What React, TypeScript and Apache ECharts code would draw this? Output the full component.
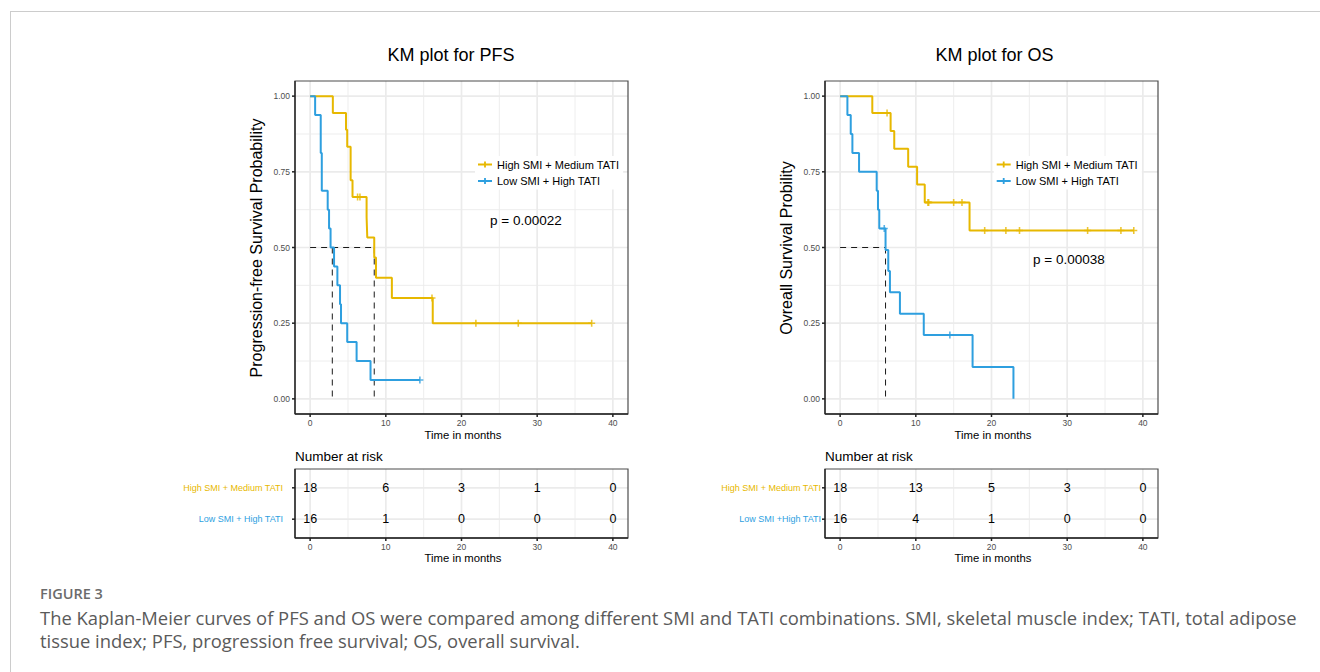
import React, { useEffect, useRef } from 'react';
import * as echarts from 'echarts';

const FONT = '"Liberation Sans", Arial, Helvetica, sans-serif';
const CAPTION_FONT = '"Open Sans", "Noto Sans", sans-serif';
const YELLOW = '#E7B800';
const BLUE = '#2E9FDF';

const groupNames = ['High SMI + Medium TATI', 'Low SMI + High TATI'];
const pfsRowLabels = ['High SMI + Medium TATI', 'Low SMI + High TATI'];
const osRowLabels = ['High SMI + Medium TATI', 'Low SMI +High TATI'];

const xMajorTicks = [0, 10, 20, 30, 40];
const xMinorTicks = [5, 15, 25, 35];
const xTickLabels = ['0', '10', '20', '30', '40'];
const yMajorTicks = [0, 0.25, 0.5, 0.75, 1];
const yMinorTicks = [0.125, 0.375, 0.625, 0.875];
const yTickLabels = ['0.00', '0.25', '0.50', '0.75', '1.00'];
const riskTimes = [0, 10, 20, 30, 40];
const riskRows = [2, 1];

// PFS, High SMI + Medium TATI: [time, survival]
const pfsHigh = [
  [0, 1], [3.0, 0.944], [4.74, 0.889], [4.9, 0.833], [5.35, 0.722], [5.6, 0.667],
  [7.46, 0.6], [7.55, 0.533], [8.47, 0.467], [8.7, 0.4], [10.8, 0.333], [16.2, 0.25], [37.2, 0.25],
];
const pfsHighCensor = [[6.27, 0.667], [6.58, 0.667], [16.1, 0.333], [21.9, 0.25], [27.5, 0.25], [37.2, 0.25]];
// PFS, Low SMI + High TATI
const pfsLow = [
  [0, 1], [0.66, 0.9375], [1.4, 0.8125], [1.54, 0.6875], [2.32, 0.625], [2.5, 0.5625], [2.7, 0.5],
  [3.16, 0.4375], [3.6, 0.375], [3.95, 0.3125], [4.08, 0.25], [4.9, 0.1875], [6.14, 0.125],
  [7.98, 0.0625], [14.5, 0.0625],
];
const pfsLowCensor = [[14.5, 0.0625]];
const pfsMedians = [2.93, 8.47];

// OS, High SMI + Medium TATI
const osHigh = [
  [0, 1], [4.25, 0.944], [6.67, 0.885], [7.15, 0.826], [8.99, 0.767], [10.17, 0.708],
  [11.18, 0.649], [17.1, 0.556], [38.8, 0.556],
];
const osHighCensor = [
  [6.2, 0.944], [11.6, 0.649], [11.7, 0.649], [15.0, 0.649], [16.1, 0.649],
  [19.1, 0.556], [21.9, 0.556], [23.7, 0.556], [32.7, 0.556], [37.1, 0.556], [38.8, 0.556],
];
// OS, Low SMI + High TATI
const osLow = [
  [0, 1], [0.96, 0.9375], [1.4, 0.875], [1.62, 0.8125], [2.5, 0.75], [4.83, 0.6875], [5.0, 0.625],
  [5.17, 0.5625], [6.0, 0.492], [6.36, 0.422], [6.58, 0.352], [7.9, 0.281], [11.05, 0.211],
  [17.5, 0.105], [22.9, 0],
];
const osLowCensor = [[5.83, 0.5625], [14.5, 0.211]];
const osMedians = [6.0];

// Number at risk
const pfsRiskHigh = [18, 6, 3, 1, 0];
const pfsRiskLow = [16, 1, 0, 0, 0];
const osRiskHigh = [18, 13, 5, 3, 0];
const osRiskLow = [16, 4, 1, 0, 0];

const X_MIN = -2, X_MAX = 42, Y_MIN = -0.05, Y_MAX = 1.05, R_MIN = 0.4, R_MAX = 2.6;

const PLUS = 'path://M-0.9,-4H0.9V-0.9H4V0.9H0.9V4H-0.9V0.9H-4V-0.9H-0.9Z';
const LEGEND_ICON = 'path://M0,2.1H14V3.9H0Z M6.1,0H7.9V6H6.1Z';

const GRID_COLOR = '#ebebeb';

function lineEl(a: number[], b: number[], stroke: string, w: number) {
  return { type: 'line', shape: { x1: a[0], y1: a[1], x2: b[0], y2: b[1] }, style: { stroke, lineWidth: w } };
}

function gridLinesSeries(gi: number, yLo: number, yHi: number, yMaj: number[], yMin: number[]) {
  return {
    type: 'custom', xAxisIndex: gi, yAxisIndex: gi, silent: true, z: 1,
    data: [[0, 0]],
    renderItem: (_p: any, api: any) => {
      const children: any[] = [];
      xMinorTicks.forEach((v) => children.push(lineEl(api.coord([v, yLo]), api.coord([v, yHi]), GRID_COLOR, 0.9)));
      yMin.forEach((v) => children.push(lineEl(api.coord([X_MIN, v]), api.coord([X_MAX, v]), GRID_COLOR, 0.9)));
      xMajorTicks.forEach((v) => children.push(lineEl(api.coord([v, yLo]), api.coord([v, yHi]), GRID_COLOR, 1.7)));
      yMaj.forEach((v) => children.push(lineEl(api.coord([X_MIN, v]), api.coord([X_MAX, v]), GRID_COLOR, 1.7)));
      return { type: 'group', children };
    },
  };
}

function frameSeries(gi: number, yLo: number, yHi: number, yTicks: number[], yLabels: string[], yColors: string[] | null, labelGap: number, labelSize: number) {
  return {
    type: 'custom', xAxisIndex: gi, yAxisIndex: gi, silent: true, z: 6,
    data: [[0, 0]],
    renderItem: (_p: any, api: any) => {
      const tl = api.coord([X_MIN, yHi]);
      const br = api.coord([X_MAX, yLo]);
      const children: any[] = [
        { type: 'rect', shape: { x: tl[0], y: tl[1], width: br[0] - tl[0], height: br[1] - tl[1] }, style: { fill: 'none', stroke: '#4d4d4d', lineWidth: 1.2 } },
        lineEl([tl[0], tl[1]], [tl[0], br[1]], '#222', 1.3),
        lineEl([tl[0], br[1]], [br[0], br[1]], '#222', 1.3),
      ];
      yTicks.forEach((v, i) => {
        const p = api.coord([X_MIN, v]);
        children.push(lineEl([p[0] - 3, p[1]], [p[0], p[1]], '#222', 1.5));
        children.push({
          type: 'text', x: p[0] - labelGap, y: p[1],
          style: { text: yLabels[i], fill: yColors ? yColors[i] : '#4d4d4d', fontSize: labelSize, fontFamily: FONT, align: 'right', verticalAlign: 'middle' },
        });
      });
      xMajorTicks.forEach((v, i) => {
        const p = api.coord([v, yLo]);
        children.push(lineEl([p[0], p[1]], [p[0], p[1] + 3], '#222', 1.5));
        children.push({
          type: 'text', x: p[0], y: p[1] + 9,
          style: { text: xTickLabels[i], fill: '#4d4d4d', fontSize: 8.5, fontFamily: FONT, align: 'center', verticalAlign: 'middle' },
        });
      });
      return { type: 'group', children };
    },
  };
}

function kmSeries(gi: number, high: number[][], highC: number[][], low: number[][], lowC: number[][], medians: number[]) {
  const s: any[] = [gridLinesSeries(gi, Y_MIN, Y_MAX, yMajorTicks, yMinorTicks)];
  const maxMed = Math.max(...medians);
  const dashed = { color: '#1a1a1a', width: 1, type: [6, 5] };
  s.push({ type: 'line', name: 'median-h', xAxisIndex: gi, yAxisIndex: gi, z: 2, symbol: 'none', silent: true, lineStyle: dashed, data: [[0, 0.5], [maxMed, 0.5]] });
  medians.forEach((m) => {
    s.push({ type: 'line', name: 'median-v', xAxisIndex: gi, yAxisIndex: gi, z: 2, symbol: 'none', silent: true, lineStyle: dashed, data: [[m, 0.5], [m, 0]] });
  });
  [[high, highC, YELLOW, groupNames[0]], [low, lowC, BLUE, groupNames[1]]].forEach(([curve, cens, color, name]: any) => {
    s.push({
      type: 'line', name, xAxisIndex: gi, yAxisIndex: gi, z: 3, step: 'end', symbol: 'none', showSymbol: false,
      lineStyle: { color, width: 2 }, itemStyle: { color }, data: curve,
    });
    s.push({
      type: 'scatter', name: name + ' censored', xAxisIndex: gi, yAxisIndex: gi, z: 4, symbol: PLUS, symbolSize: 7,
      itemStyle: { color }, data: cens,
    });
  });
  s.push(frameSeries(gi, Y_MIN, Y_MAX, yMajorTicks, yTickLabels, null, 5, 8.5));
  return s;
}

function tableSeries(gi: number, rowLabels: string[], high: number[], low: number[], labelGap: number) {
  const s: any[] = [gridLinesSeries(gi, R_MIN, R_MAX, riskRows, [])];
  const data: any[] = [];
  riskTimes.forEach((t, i) => data.push([t, riskRows[0], high[i]]));
  riskTimes.forEach((t, i) => data.push([t, riskRows[1], low[i]]));
  s.push({
    type: 'custom', xAxisIndex: gi, yAxisIndex: gi, z: 5, silent: true,
    data,
    renderItem: (_p: any, api: any) => {
      const p = api.coord([api.value(0), api.value(1)]);
      return {
        type: 'text', x: p[0], y: p[1],
        style: { text: String(api.value(2)), fill: '#000', fontSize: 12.5, fontFamily: FONT, align: 'center', verticalAlign: 'middle' },
      };
    },
  });
  s.push(frameSeries(gi, R_MIN, R_MAX, riskRows, rowLabels, [YELLOW, BLUE], labelGap, 9));
  return s;
}

function txt(x: number, y: number, text: string, fontSize: number, opts: any = {}) {
  return {
    type: 'text', x, y, rotation: opts.rotation || 0, silent: true, z: 100,
    style: {
      text, fill: opts.fill || '#000', fontSize, fontFamily: opts.font || FONT, fontWeight: opts.weight || 'normal',
      align: opts.align || 'center', verticalAlign: 'middle',
    },
  };
}

export default function App() {
  const ref = useRef<HTMLDivElement>(null);
  useEffect(() => {
    if (!ref.current) return;
    const chart = echarts.init(ref.current, null, { renderer: 'svg' });
    const xAxisBase = { type: 'value', min: X_MIN, max: X_MAX, show: false };
    const option: any = {
      animation: false,
      backgroundColor: '#ffffff',
      grid: [
        { left: 295, top: 81, width: 333, height: 333 },
        { left: 825, top: 81, width: 333, height: 333 },
        { left: 295, top: 469, width: 333, height: 69 },
        { left: 825, top: 469, width: 333, height: 69 },
      ],
      xAxis: [0, 1, 2, 3].map((g) => ({ ...xAxisBase, gridIndex: g })),
      yAxis: [
        { type: 'value', gridIndex: 0, min: Y_MIN, max: Y_MAX, show: false },
        { type: 'value', gridIndex: 1, min: Y_MIN, max: Y_MAX, show: false },
        { type: 'value', gridIndex: 2, min: R_MIN, max: R_MAX, show: false },
        { type: 'value', gridIndex: 3, min: R_MIN, max: R_MAX, show: false },
      ],
      legend: [475, 993.7].map((left) => ({
        left, top: 156, orient: 'vertical', selectedMode: false,
        data: groupNames.map((name) => ({ name, icon: LEGEND_ICON })),
        itemWidth: 14, itemHeight: 6, itemGap: 5.5, padding: [3, 4, 3, 3],
        backgroundColor: '#ffffff',
        textStyle: { fontSize: 11, color: '#000', fontFamily: FONT },
      })),
      series: [
        ...kmSeries(0, pfsHigh, pfsHighCensor, pfsLow, pfsLowCensor, pfsMedians),
        ...kmSeries(1, osHigh, osHighCensor, osLow, osLowCensor, osMedians),
        ...tableSeries(2, pfsRowLabels, pfsRiskHigh, pfsRiskLow, 12),
        ...tableSeries(3, osRowLabels, osRiskHigh, osRiskLow, 4),
      ],
      graphic: [
        { type: 'line', silent: true, shape: { x1: 10, y1: 11.5, x2: 1320, y2: 11.5 }, style: { stroke: '#cccccc', lineWidth: 1 } },
        { type: 'line', silent: true, shape: { x1: 10.5, y1: 11, x2: 10.5, y2: 672 }, style: { stroke: '#cccccc', lineWidth: 1 } },
        txt(451, 55, 'KM plot for PFS', 18),
        txt(994.5, 55, 'KM plot for OS', 18),
        txt(256, 248, 'Progression-free Survival Probability', 16, { rotation: Math.PI / 2 }),
        txt(786, 248, 'Ovreall Survival Probility', 16, { rotation: Math.PI / 2 }),
        txt(463, 435, 'Time in months', 11.3),
        txt(993, 435, 'Time in months', 11.3),
        txt(490, 220, 'p = 0.00022', 13.5, { align: 'left' }),
        txt(1033, 259.5, 'p = 0.00038', 13.5, { align: 'left' }),
        txt(295, 456, 'Number at risk', 13.5, { align: 'left' }),
        txt(825, 456, 'Number at risk', 13.5, { align: 'left' }),
        txt(463, 558, 'Time in months', 11.3),
        txt(993, 558, 'Time in months', 11.3),
        txt(40, 593, 'FIGURE 3', 14.5, { align: 'left', font: CAPTION_FONT, weight: 600, fill: '#6b6b6b' }),
        txt(40, 617.5, 'The Kaplan-Meier curves of PFS and OS were compared among different SMI and TATI combinations. SMI, skeletal muscle index; TATI, total adipose', 18.4, { align: 'left', font: CAPTION_FONT, fill: '#5a5a5a' }),
        txt(40, 640.5, 'tissue index; PFS, progression free survival; OS, overall survival.', 18.4, { align: 'left', font: CAPTION_FONT, fill: '#5a5a5a' }),
      ],
    };
    chart.setOption(option);
    return () => chart.dispose();
  }, []);
  return <div ref={ref} style={{ position: 'fixed', left: 0, top: 0, width: 1320, height: 672, background: '#fff' }} />;
}
